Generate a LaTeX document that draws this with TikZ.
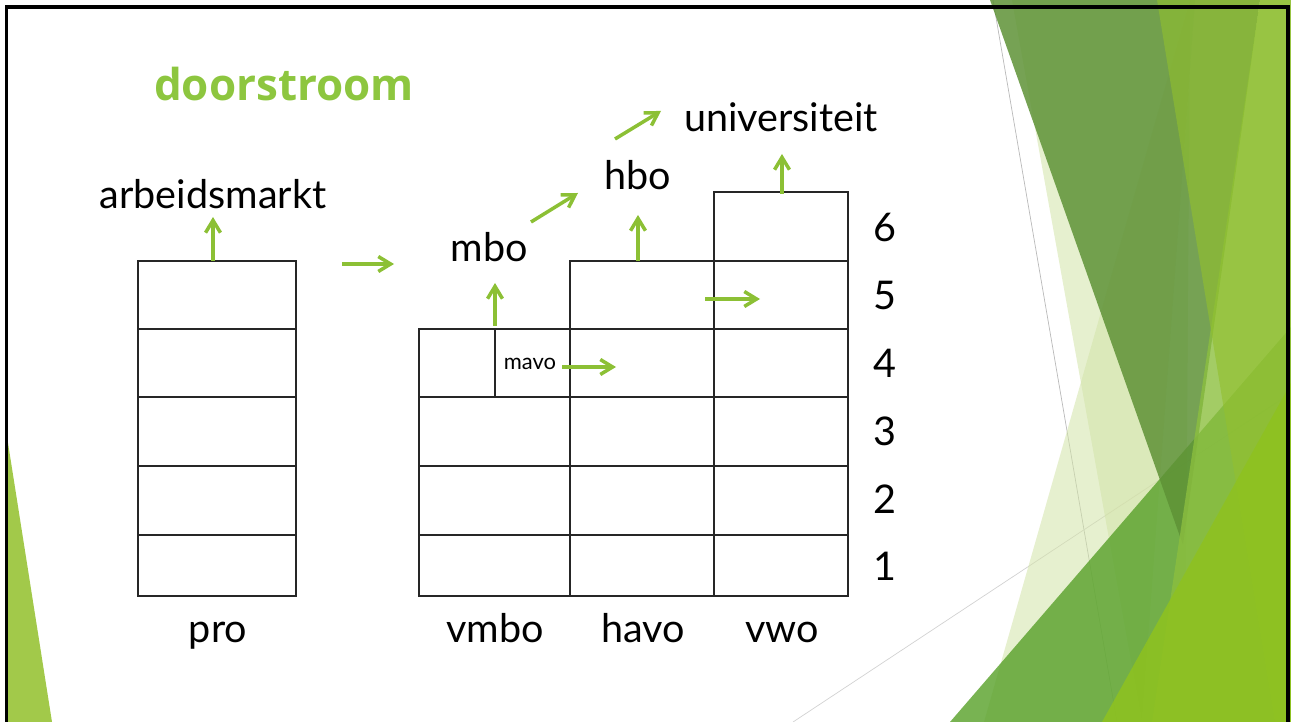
\documentclass[tikz,border=0pt]{standalone}
\usepackage{fontspec}
\setmainfont{Lato}
\newfontfamily\kopfont{Open Sans}
\usetikzlibrary{arrows.meta}
\definecolor{kopgroen}{HTML}{8DC63F}
\definecolor{pijlgroen}{HTML}{8CC035}
\definecolor{bleek}{HTML}{D2E3A8}
\definecolor{donker}{HTML}{5E9236}
\definecolor{limeA}{HTML}{92C02E}
\definecolor{limeB}{HTML}{8CBF3F}
\definecolor{middel}{HTML}{5AA22C}
\definecolor{fel}{HTML}{8FC21F}
\definecolor{randgroen}{HTML}{A2C94A}
\tikzset{>={Straight Barb[length=7pt,width=8.5pt]}}
\tikzset{
	% arrows
	pijl/.style={->,draw=pijlgroen,line width=2pt},
	% labels
	tekst/.style={anchor=base,inner sep=0pt,font=\fontsize{22.5}{27}\selectfont},
	klein/.style={anchor=base,inner sep=0pt,font=\fontsize{12.5}{15}\selectfont},
	% grid cells
	cel/.style={draw=black!85,line width=0.8pt},
}

\begin{document}
\begin{tikzpicture}[x=0.02cm,y=-0.02cm]
\useasboundingbox (0,0) rectangle (1291,722);
\clip (0,0) rectangle (1291,722);
% the facets on the right
\draw[gray!55,line width=0.4pt] (993,0) -- (1117,722);
\draw[gray!35,line width=0.4pt] (793,722) -- (1291,393);
\fill[bleek,opacity=.55] (1012,0) -- (1195,0) -- (1142,722) -- cycle;
\fill[bleek,opacity=.55] (1190,0) -- (984,722) -- (1185,722) -- cycle;
\fill[middel,opacity=.82] (950,722) -- (1291,327) -- (1291,722) -- cycle;
\fill[donker,opacity=.85] (990,0) -- (1260,0) -- (1183,545) -- cycle;
\fill[limeB,opacity=.8] (1260,0) -- (1291,0) -- (1291,722) -- (1152,722) -- cycle;
\fill[limeA,opacity=.6] (1157,0) -- (1291,0) -- (1291,722) -- (1275,722) -- cycle;
\fill[fel,opacity=.85] (1102,722) -- (1291,383) -- (1291,722) -- cycle;
% and the one on the left
\fill[randgroen] (8,443) -- (8,722) -- (52,722) -- cycle;
% slide frame
\draw[line width=1.8pt] (6.5,740) |- (1288,7) -- (1288,740);

% title
\node[anchor=base,inner sep=0pt,text=kopgroen,font=\kopfont\bfseries\fontsize{25}{30}\selectfont] (kop) at (284,101) {doorstroom};

% pro
\foreach \t/\b in {261/329,329/397,397/466,466/535,535/596}
  \draw[cel] (138,\t) rectangle (296,\b);
% vmbo
\foreach \t/\b in {397/466,466/535,535/596}
  \draw[cel] (419,\t) rectangle (570,\b);
\draw[cel] (419,329) rectangle (495,397);
\draw[cel] (495,329) rectangle (570,397);
% havo
\foreach \t/\b in {261/329,329/397,397/466,466/535,535/596}
  \draw[cel] (570,\t) rectangle (714,\b);
% vwo
\foreach \t/\b in {192/261,261/329,329/397,397/466,466/535,535/596}
  \draw[cel] (714,\t) rectangle (848,\b);

% school types
\node[tekst] (pro) at (218,642) {pro};
\node[tekst] (vmbo) at (495,642) {vmbo};
\node[tekst] (havo) at (643,642) {havo};
\node[tekst] (vwo) at (782,642) {vwo};
% years
\foreach \n/\y in {1/580,2/514,3/446,4/378,5/310,6/242}
  \node[tekst] (jr\n) at (885,\y) {\n};

% follow-up
\node[tekst] (arbeid) at (213,209) {arbeidsmarkt};
\node[tekst] (mbo) at (489,262) {mbo};
\node[tekst] (hbo) at (638,190) {hbo};
\node[tekst] (uni) at (781,132) {universiteit};
\node[klein] (mavo) at (530,370) {mavo};

% arrow ends
\coordinate (a1) at (213,261); \coordinate (a2) at (213,217);
\coordinate (b1) at (342,264); \coordinate (b2) at (394,264);
\coordinate (c1) at (495,326); \coordinate (c2) at (495,283);
\coordinate (d1) at (531,222); \coordinate (d2) at (578,193);
\coordinate (e1) at (615,139); \coordinate (e2) at (661,111);
\coordinate (f1) at (638,261); \coordinate (f2) at (638,215);
\coordinate (g1) at (782,194); \coordinate (g2) at (782,154);
\coordinate (h1) at (705,299); \coordinate (h2) at (760,299);
\coordinate (i1) at (562,367); \coordinate (i2) at (616,367);
\foreach \p in {a,b,c,d,e,f,g,h,i}
  \draw[pijl] (\p1) -- (\p2);
\end{tikzpicture}
\end{document}
